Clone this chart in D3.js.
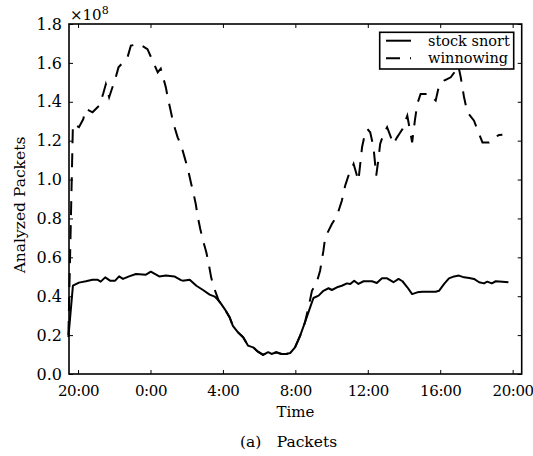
<!DOCTYPE html>
<html>
<head>
<meta charset="utf-8">
<script src="https://cdn.jsdelivr.net/npm/d3@7"></script>
<style>
  html, body { margin: 0; padding: 0; background: #fff; }
  svg text { font-family: "DejaVu Serif", "Liberation Serif", "Noto Serif", "Times New Roman", Times, serif; fill: #000; }
</style>
</head>
<body>
<svg id="chart" width="533" height="456"></svg>
<script>
// Packet counts in units of 10^8, sampled in minutes after 20:00 on the first day.
const snortMinutes = [
  -32, -17, 3, 26, 48, 64, 75, 90, 106, 123,
  136, 149, 169, 192, 225, 241, 269, 291, 319, 341,
  347, 370, 392, 414, 436, 453, 469, 486, 502, 513,
  530, 547, 563, 580, 596, 613, 630, 641, 657, 674,
  690, 703, 719, 736, 752, 769, 780, 797, 813, 830,
  841, 858, 874, 891, 902, 915, 929, 946, 974, 990,
  1007, 1024, 1045, 1062, 1075, 1091, 1107, 1124, 1141, 1163,
  1185, 1196, 1213, 1229, 1246, 1262, 1279, 1296, 1312, 1329,
  1345, 1356, 1371, 1384, 1406, 1426
];
const snortPackets = [
  0.19, 0.454, 0.47, 0.477, 0.485, 0.485, 0.475, 0.497, 0.48, 0.48,
  0.502, 0.489, 0.502, 0.514, 0.511, 0.526, 0.502, 0.506, 0.502, 0.483,
  0.48, 0.485, 0.454, 0.432, 0.408, 0.398, 0.372, 0.334, 0.292, 0.248,
  0.214, 0.189, 0.146, 0.137, 0.115, 0.098, 0.112, 0.103, 0.112, 0.103,
  0.103, 0.108, 0.137, 0.197, 0.266, 0.343, 0.391, 0.403, 0.428, 0.441,
  0.432, 0.446, 0.454, 0.466, 0.463, 0.48, 0.463, 0.477, 0.477, 0.468,
  0.492, 0.492, 0.472, 0.489, 0.477, 0.446, 0.411, 0.42, 0.423, 0.423,
  0.423, 0.428, 0.463, 0.492, 0.502, 0.506, 0.497, 0.494, 0.489, 0.472,
  0.466, 0.475, 0.466, 0.477, 0.475, 0.472
];

const winMinutes = [
  -32, -17, 3, 17, 26, 48, 70, 83, 92, 103,
  125, 134, 164, 175, 202, 230, 252, 264, 274, 291,
  297, 308, 315, 330, 342, 353, 364, 375, 383, 390,
  397, 405, 414, 425, 433, 441, 450, 466, 486, 502,
  513, 530, 547, 563, 580, 596, 613, 630, 641, 657,
  674, 690, 703, 719, 736, 752, 766, 775, 791, 802,
  813, 819, 841, 858, 874, 885, 896, 913, 929, 941,
  948, 959, 968, 979, 988, 996, 1001, 1012, 1024, 1045,
  1057, 1068, 1075, 1091, 1102, 1107, 1116, 1124, 1135, 1163,
  1185, 1196, 1213, 1235, 1251, 1260, 1268, 1279, 1290, 1312,
  1329, 1340, 1362, 1379, 1395, 1406
];
const winPackets = [
  0.20, 1.286, 1.269, 1.31, 1.363, 1.346, 1.38, 1.44, 1.49, 1.423,
  1.526, 1.577, 1.629, 1.689, 1.697, 1.671, 1.594, 1.551, 1.57, 1.474,
  1.423, 1.346, 1.294, 1.217, 1.174, 1.114, 1.054, 0.977, 0.926, 0.874,
  0.806, 0.746, 0.686, 0.626, 0.566, 0.497, 0.446, 0.377, 0.334, 0.292,
  0.248, 0.214, 0.189, 0.146, 0.137, 0.115, 0.098, 0.112, 0.103, 0.112,
  0.103, 0.103, 0.108, 0.137, 0.197, 0.266, 0.36, 0.428, 0.472, 0.531,
  0.634, 0.703, 0.771, 0.814, 0.891, 0.968, 1.02, 1.08, 0.994, 1.166,
  1.217, 1.26, 1.243, 1.166, 1.02, 1.114, 1.183, 1.234, 1.269, 1.183,
  1.217, 1.243, 1.26, 1.328, 1.234, 1.191, 1.303, 1.389, 1.44, 1.44,
  1.406, 1.483, 1.509, 1.526, 1.56, 1.586, 1.526, 1.423, 1.346, 1.303,
  1.234, 1.191, 1.191, 1.217, 1.229, 1.23
];

const seriesNames = ["stock snort", "winnowing"];
const yTickValues = [0, 0.2, 0.4, 0.6, 0.8, 1.0, 1.2, 1.4, 1.6, 1.8];
const xTickHours = [0, 4, 8, 12, 16, 20, 24]; // hours after 20:00

(function draw() {
  const start = new Date(2011, 0, 1, 20, 0);
  const at = m => new Date(start.getTime() + m * 60000);

  const svg = d3.select("#chart");
  svg.append("rect").attr("width", 533).attr("height", 456).attr("fill", "#fff");

  const mLeft = 69, mRight = 521.7, mTop = 24, mBottom = 374;

  const x = d3.scaleTime()
    .domain([at(-30), at(24.5 * 60)])
    .range([mLeft, mRight]);
  const y = d3.scaleLinear()
    .domain([0, 1.8])
    .range([mBottom, mTop]);

  const xTicks = xTickHours.map(h => at(h * 60));
  const fmtTime = d3.timeFormat("%-H:%M");

  // axes with inward ticks on all four sides
  const gx = svg.append("g").attr("transform", `translate(0,${mBottom})`)
    .call(d3.axisBottom(x).tickValues(xTicks).tickFormat(fmtTime)
      .tickSizeInner(-4).tickSizeOuter(0).tickPadding(11));
  const gxTop = svg.append("g").attr("transform", `translate(0,${mTop})`)
    .call(d3.axisTop(x).tickValues(xTicks).tickFormat("")
      .tickSizeInner(-4).tickSizeOuter(0));
  const gy = svg.append("g").attr("transform", `translate(${mLeft},0)`)
    .call(d3.axisLeft(y).tickValues(yTickValues).tickFormat(d3.format(".1f"))
      .tickSizeInner(-4).tickSizeOuter(0).tickPadding(7));
  const gyRight = svg.append("g").attr("transform", `translate(${mRight},0)`)
    .call(d3.axisRight(y).tickValues(yTickValues).tickFormat("")
      .tickSizeInner(-4).tickSizeOuter(0));

  [gx, gxTop, gy, gyRight].forEach(g => {
    g.attr("font-family", null);
    g.select(".domain").remove();
    g.selectAll(".tick line").attr("stroke", "#000").attr("stroke-width", 1);
    g.selectAll(".tick text").attr("fill", "#000");
  });
  gx.selectAll(".tick text")
    .attr("font-size", 15)
    .attr("letter-spacing", "-0.4px");
  gy.selectAll(".tick text").attr("font-size", 16);

  // series lines
  const lineGen = d3.line()
    .x(d => x(at(d[0])))
    .y(d => y(d[1]));

  const snortData = snortMinutes.map((m, i) => [m, snortPackets[i]]);
  const winData = winMinutes.map((m, i) => [m, winPackets[i]]);

  const plot = svg.append("g");
  plot.append("path").datum(snortData)
    .attr("d", lineGen)
    .attr("fill", "none").attr("stroke", "#000").attr("stroke-width", 2)
    .attr("stroke-linejoin", "round");
  plot.append("path").datum(winData)
    .attr("d", lineGen)
    .attr("fill", "none").attr("stroke", "#000").attr("stroke-width", 2)
    .attr("stroke-dasharray", "14,10");

  // frame
  svg.append("rect")
    .attr("x", mLeft).attr("y", mTop)
    .attr("width", mRight - mLeft).attr("height", mBottom - mTop)
    .attr("fill", "none").attr("stroke", "#000").attr("stroke-width", 1.6);

  // multiplier label
  const mult = svg.append("text").attr("x", 70).attr("y", 20).attr("font-size", 15);
  mult.append("tspan").text("\u00d710");
  mult.append("tspan").attr("font-size", 11).attr("dy", -6).text("8");

  // axis titles
  svg.append("text")
    .attr("x", (mLeft + mRight) / 2).attr("y", 417)
    .attr("text-anchor", "middle").attr("font-size", 15)
    .text("Time");
  svg.append("text")
    .attr("transform", "translate(25,205) rotate(-90)")
    .attr("text-anchor", "middle").attr("font-size", 15.5)
    .text("Analyzed Packets");

  // caption
  const cap = svg.append("text").attr("y", 447).attr("font-size", 15.5);
  cap.append("tspan").attr("x", 240).text("(a)");
  cap.append("tspan").attr("x", 276.7).text("Packets");

  // legend
  const lg = svg.append("g");
  lg.append("rect")
    .attr("x", 379.7).attr("y", 32.3).attr("width", 134).attr("height", 36.7)
    .attr("fill", "#fff").attr("stroke", "#000").attr("stroke-width", 1.6);
  const dashes = [null, "14,10"];
  seriesNames.forEach((name, i) => {
    const ly = 40.7 + i * 17.6;
    lg.append("line")
      .attr("x1", 386).attr("x2", 411).attr("y1", ly).attr("y2", ly)
      .attr("stroke", "#000").attr("stroke-width", 2)
      .attr("stroke-dasharray", dashes[i]);
    lg.append("text")
      .attr("x", 428).attr("y", ly + 5).attr("font-size", 14.5)
      .text(name);
  });
})();
</script>
</body>
</html>
